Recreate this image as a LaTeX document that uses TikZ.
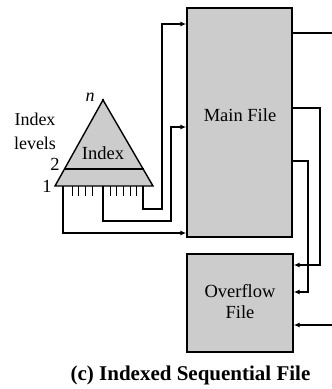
\documentclass[tikz,border=0pt]{standalone}
\usepackage{fontspec}
\setmainfont{Liberation Serif}
\usetikzlibrary{arrows.meta}
\begin{document}
\begin{tikzpicture}[x=1pt,y=-1pt,
  filebox/.style={draw=black,line width=1.4pt,fill=black!20,inner sep=0pt},
  conn/.style={draw=black,line width=1.3pt},
  arr/.style={conn,-{Latex[length=6pt,width=5pt]}},
  lbl/.style={font=\fontsize{18.5}{21}\selectfont,inner sep=0pt,align=center},
  tick/.style={draw=black,line width=0.9pt}]
\useasboundingbox (0,0) rectangle (332,389);
% boxes
\node[filebox,minimum width=105pt,minimum height=229pt] (main) at (239.5,122.5) {};
\node[lbl] (maintext) at (240,115) {Main File};
\node[filebox,minimum width=106pt,minimum height=98pt] (ovf) at (240,303) {};
\node[lbl] (ovftext) at (240,302) {Overflow\\File};
% triangle index
\coordinate (bl) at (55,186);
\coordinate (br) at (153,186);
\coordinate (apex) at (103,100);
\draw[line width=1.4pt,fill=black!20,line join=miter] (bl) -- (apex) -- (br) -- cycle;
\coordinate (l2a) at (64.5,169);
\coordinate (l2b) at (143.5,169);
\draw[line width=1.2pt] (l2a) -- (l2b);
\fill (apex) circle (1.3pt);
\node[lbl] (idx) at (103,153) {Index};
\node[lbl,font=\fontsize{18}{21}\selectfont\itshape] (nlab) at (90,97) {n};
\node[lbl] (two) at (55,164) {2};
\node[lbl] (one) at (47,186) {1};
\node[lbl,align=center,font=\fontsize{18}{24}\selectfont] (levels) at (35,131) {Index\\levels};
% ticks
\foreach \x in {72,78.7,85.3,92,110,116.7,123.3,130,136.7}
  \draw[tick] (\x,186) -- (\x,196);
% index connectors
\coordinate (s1) at (143,186);
\coordinate (s2) at (103,186);
\coordinate (s3) at (63,186);
\draw[arr] (s1) -- (143,209) -- (162,209) -- (162,24) -- (main.west |- 0,24);
\draw[arr] (s2) -- (103,221) -- (171,221) -- (171,127) -- (main.west |- 0,127);
\draw[arr] (s3) -- (63,233) -- (main.west |- 0,233);
% right side
\coordinate (outtop) at (332,33);
\coordinate (inbot) at (332,325);
\draw[conn] (main.east |- 0,33) -- (outtop);
\draw[arr] (main.east |- 0,108) -- (320,108) -- (320,265) -- (ovf.east |- 0,265);
\draw[arr] (main.east |- 0,161) -- (308,161) -- (308,292) -- (ovf.east |- 0,292);
\draw[arr] (inbot) -- (ovf.east |- 0,325);
% caption
\node[font=\fontsize{21}{23}\selectfont\bfseries,inner sep=0pt] (cap) at (190.5,375) {(c) Indexed Sequential File};
\end{tikzpicture}
\end{document}
